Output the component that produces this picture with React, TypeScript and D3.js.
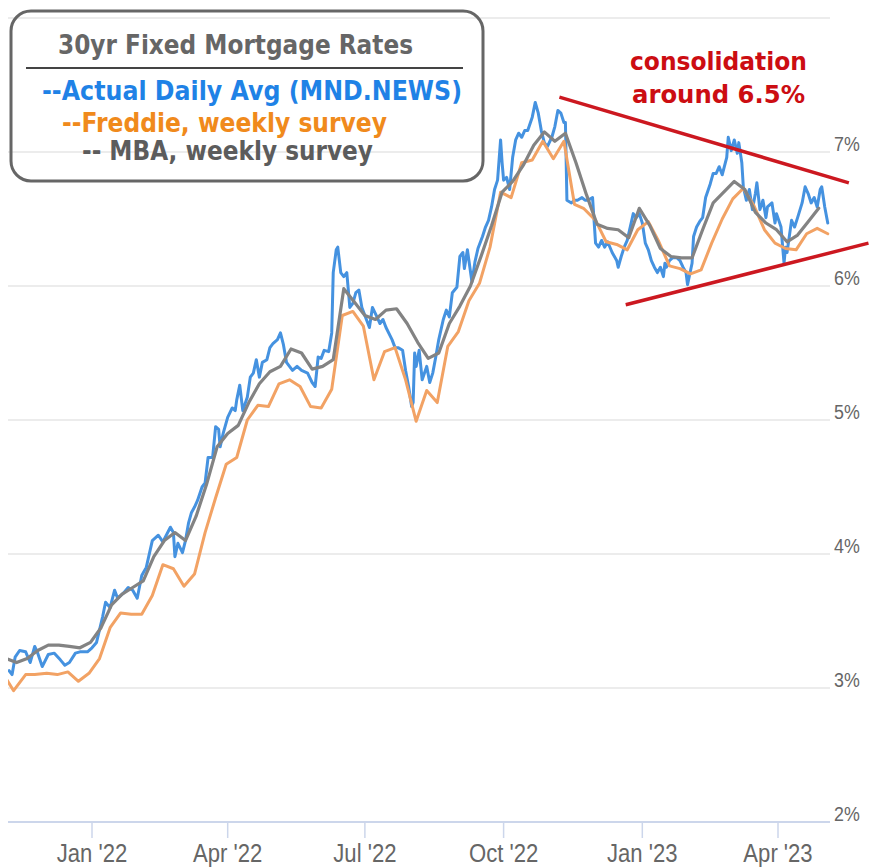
import React from 'react';
import * as d3 from 'd3';

// ---------- DATA ----------
const blueDates = [
  '2021-11-07','2021-11-09','2021-11-11','2021-11-14','2021-11-18','2021-11-21','2021-11-24','2021-11-26','2021-11-29',
  '2021-12-03','2021-12-07','2021-12-11','2021-12-14','2021-12-17','2021-12-21','2021-12-24','2021-12-29',
  '2022-01-01','2022-01-04','2022-01-08','2022-01-10','2022-01-13','2022-01-16','2022-01-18','2022-01-22','2022-01-25','2022-01-28','2022-01-31',
  '2022-02-03','2022-02-06','2022-02-10','2022-02-14','2022-02-17','2022-02-22','2022-02-24','2022-02-25','2022-02-27',
  '2022-03-02','2022-03-04','2022-03-06','2022-03-08','2022-03-10','2022-03-12','2022-03-15','2022-03-17','2022-03-19','2022-03-22','2022-03-24','2022-03-26','2022-03-27','2022-03-29',
  '2022-04-01','2022-04-04','2022-04-06','2022-04-07','2022-04-09','2022-04-11','2022-04-14','2022-04-16','2022-04-18','2022-04-20','2022-04-22','2022-04-24','2022-04-27','2022-04-29',
  '2022-05-01','2022-05-04','2022-05-06','2022-05-08','2022-05-10','2022-05-14','2022-05-17','2022-05-20','2022-05-24','2022-05-27','2022-05-29','2022-05-31',
  '2022-06-02','2022-06-04','2022-06-07','2022-06-09','2022-06-10','2022-06-12','2022-06-13','2022-06-15','2022-06-17','2022-06-19','2022-06-21','2022-06-23','2022-06-25','2022-06-27','2022-06-29',
  '2022-07-02','2022-07-04','2022-07-06','2022-07-09','2022-07-11','2022-07-13','2022-07-15','2022-07-19','2022-07-21','2022-07-23','2022-07-26','2022-07-28','2022-07-30',
  '2022-08-01','2022-08-02','2022-08-03','2022-08-04','2022-08-06','2022-08-08','2022-08-11','2022-08-13','2022-08-15','2022-08-17','2022-08-19','2022-08-22','2022-08-24','2022-08-26','2022-08-28','2022-08-31',
  '2022-09-02','2022-09-04','2022-09-05','2022-09-07','2022-09-10','2022-09-12','2022-09-14','2022-09-17','2022-09-19','2022-09-21','2022-09-23','2022-09-25','2022-09-27','2022-09-29','2022-09-30',
  '2022-10-01','2022-10-03','2022-10-05','2022-10-07','2022-10-09','2022-10-11','2022-10-13','2022-10-15','2022-10-17','2022-10-20','2022-10-22','2022-10-24','2022-10-26','2022-10-28','2022-10-30',
  '2022-11-02','2022-11-04','2022-11-06','2022-11-08','2022-11-10','2022-11-11','2022-11-12','2022-11-15','2022-11-17','2022-11-19','2022-11-22','2022-11-24','2022-11-26','2022-11-29','2022-11-30',
  '2022-12-01','2022-12-03','2022-12-05','2022-12-07','2022-12-09','2022-12-12','2022-12-15','2022-12-16','2022-12-18','2022-12-20','2022-12-22','2022-12-25','2022-12-26','2022-12-28','2022-12-30',
  '2023-01-01','2023-01-03','2023-01-05','2023-01-07','2023-01-09','2023-01-11','2023-01-13','2023-01-15','2023-01-16','2023-01-17','2023-01-19','2023-01-21','2023-01-24','2023-01-26','2023-01-28','2023-01-30','2023-01-31',
  '2023-02-03','2023-02-04','2023-02-06','2023-02-08','2023-02-10','2023-02-12','2023-02-15','2023-02-17','2023-02-19','2023-02-21','2023-02-23','2023-02-26','2023-02-27',
  '2023-03-01','2023-03-03','2023-03-05','2023-03-06','2023-03-08','2023-03-09','2023-03-11','2023-03-13','2023-03-15','2023-03-17','2023-03-18','2023-03-20','2023-03-22','2023-03-24','2023-03-25','2023-03-28','2023-03-30','2023-03-31',
  '2023-04-03','2023-04-05','2023-04-06','2023-04-07','2023-04-10','2023-04-12','2023-04-14','2023-04-17','2023-04-19','2023-04-21','2023-04-23','2023-04-25','2023-04-27','2023-04-29','2023-04-30',
  '2023-05-02','2023-05-04',
];
const blueValues = [
  3.13,3.10,3.23,3.28,3.27,3.19,3.31,3.26,3.16,
  3.25,3.26,3.21,3.17,3.19,3.26,3.27,3.27,
  3.30,3.34,3.53,3.64,3.60,3.73,3.67,3.71,3.75,3.73,3.67,
  3.84,3.90,4.10,4.14,4.09,4.20,4.16,3.98,4.08,
  4.01,4.10,4.23,4.31,4.35,4.40,4.50,4.53,4.72,4.72,4.95,4.93,4.80,4.90,
  5.02,5.09,5.07,5.15,5.26,5.07,5.17,5.32,5.35,5.45,5.32,5.43,5.45,5.54,
  5.57,5.60,5.65,5.56,5.43,5.37,5.40,5.37,5.35,5.28,5.25,5.47,
  5.46,5.52,5.51,5.65,6.10,6.27,6.29,6.10,6.07,6.10,5.84,5.87,5.95,5.97,5.84,
  5.75,5.69,5.84,5.77,5.72,5.75,5.69,5.60,5.54,5.54,5.52,5.37,5.25,
  5.10,5.13,5.50,5.40,5.52,5.30,5.40,5.28,5.35,5.47,5.60,5.75,5.82,5.77,5.95,5.99,
  6.22,6.25,6.13,6.27,6.03,6.18,6.28,6.37,6.44,6.49,6.59,6.72,6.79,7.09,6.92,
  6.79,6.81,6.72,6.96,7.09,7.14,7.11,7.16,7.16,7.26,7.37,7.29,7.16,7.07,7.04,
  7.11,7.19,7.31,7.29,7.22,7.22,6.64,6.62,6.64,6.64,6.66,6.64,6.64,6.66,6.49,
  6.32,6.29,6.34,6.29,6.33,6.25,6.19,6.14,6.22,6.29,6.34,6.49,6.54,6.51,6.54,
  6.47,6.32,6.27,6.19,6.14,6.10,6.14,6.07,6.17,6.14,6.19,6.21,6.21,6.19,6.14,6.10,6.01,
  6.17,6.37,6.44,6.48,6.51,6.66,6.76,6.84,6.84,6.89,6.83,6.96,7.11,
  7.01,7.09,6.99,7.07,6.92,6.74,6.64,6.72,6.57,6.69,6.77,6.57,6.64,6.51,6.59,6.62,6.47,6.54,
  6.44,6.17,6.29,6.25,6.49,6.44,6.51,6.62,6.74,6.69,6.62,6.66,6.59,6.72,6.74,
  6.59,6.47,
];

const freddieDates = [
  '2021-10-28','2021-11-04','2021-11-10','2021-11-18','2021-11-24','2021-12-02','2021-12-09','2021-12-16','2021-12-23','2021-12-30',
  '2022-01-06','2022-01-13','2022-01-20','2022-01-27','2022-02-03','2022-02-10','2022-02-17','2022-02-24','2022-03-03','2022-03-10',
  '2022-03-17','2022-03-24','2022-03-31','2022-04-07','2022-04-14','2022-04-21','2022-04-28','2022-05-05','2022-05-12','2022-05-19',
  '2022-05-26','2022-06-02','2022-06-09','2022-06-16','2022-06-23','2022-06-30','2022-07-07','2022-07-14','2022-07-21','2022-07-28',
  '2022-08-04','2022-08-11','2022-08-18','2022-08-25','2022-09-01','2022-09-08','2022-09-15','2022-09-22','2022-09-29','2022-10-06',
  '2022-10-13','2022-10-20','2022-10-27','2022-11-03','2022-11-10','2022-11-17','2022-11-23','2022-12-01','2022-12-08','2022-12-15',
  '2022-12-22','2022-12-29','2023-01-05','2023-01-12','2023-01-19','2023-01-26','2023-02-02','2023-02-09','2023-02-16','2023-02-23',
  '2023-03-02','2023-03-09','2023-03-16','2023-03-23','2023-03-30','2023-04-06','2023-04-13','2023-04-20','2023-04-27','2023-05-04',
];
const freddieValues = [
  3.14,3.09,2.98,3.10,3.10,3.11,3.10,3.12,3.05,3.11,
  3.22,3.45,3.56,3.55,3.55,3.69,3.92,3.89,3.76,3.85,
  4.16,4.42,4.67,4.72,5.00,5.11,5.10,5.27,5.30,5.25,
  5.10,5.09,5.23,5.78,5.81,5.70,5.30,5.51,5.54,5.30,
  4.99,5.22,5.13,5.55,5.66,5.89,6.02,6.29,6.70,6.66,
  6.92,6.94,7.08,6.95,7.08,6.61,6.58,6.49,6.33,6.31,
  6.27,6.42,6.48,6.33,6.15,6.13,6.09,6.12,6.32,6.50,
  6.65,6.73,6.60,6.42,6.32,6.28,6.27,6.39,6.43,6.39,
];

const mbaDates = [
  '2021-11-05','2021-11-12','2021-11-19','2021-11-26','2021-12-03','2021-12-10','2021-12-17','2021-12-24','2021-12-31',
  '2022-01-07','2022-01-14','2022-01-21','2022-01-28','2022-02-04','2022-02-11','2022-02-18','2022-02-25','2022-03-04','2022-03-11',
  '2022-03-18','2022-03-25','2022-04-01','2022-04-08','2022-04-15','2022-04-22','2022-04-29','2022-05-06','2022-05-13','2022-05-20',
  '2022-05-27','2022-06-03','2022-06-10','2022-06-17','2022-06-24','2022-07-01','2022-07-08','2022-07-15','2022-07-22','2022-07-29',
  '2022-08-05','2022-08-12','2022-08-19','2022-08-26','2022-09-02','2022-09-09','2022-09-16','2022-09-23','2022-09-30','2022-10-07',
  '2022-10-14','2022-10-21','2022-10-28','2022-11-04','2022-11-11','2022-11-18','2022-11-25','2022-12-02','2022-12-09','2022-12-16',
  '2022-12-23','2022-12-30','2023-01-06','2023-01-13','2023-01-20','2023-01-27','2023-02-03','2023-02-10','2023-02-17','2023-02-24',
  '2023-03-03','2023-03-10','2023-03-17','2023-03-24','2023-03-31','2023-04-07','2023-04-14','2023-04-21','2023-04-28',
];
const mbaValues = [
  3.22,3.19,3.22,3.28,3.32,3.32,3.31,3.30,3.34,
  3.45,3.62,3.70,3.75,3.80,3.98,4.10,4.16,4.10,4.28,
  4.52,4.80,4.90,4.96,5.13,5.27,5.36,5.40,5.53,5.50,
  5.38,5.40,5.45,5.98,5.88,5.78,5.75,5.82,5.83,5.72,
  5.58,5.46,5.50,5.72,5.85,6.00,6.22,6.45,6.70,6.78,
  6.90,7.05,7.15,7.08,7.14,6.92,6.68,6.46,6.43,6.42,
  6.36,6.58,6.45,6.28,6.22,6.21,6.21,6.42,6.62,6.70,
  6.78,6.72,6.55,6.47,6.42,6.33,6.38,6.48,6.58,
];

const yTickValues = [2, 3, 4, 5, 6, 7, 8];
const yTickLabels = ['2%', '3%', '4%', '5%', '6%', '7%', ''];
const xTickDates = ['2022-01-01', '2022-04-01', '2022-07-01', '2022-10-01', '2023-01-01', '2023-04-01'];
const xTickLabels = ["Jan '22", "Apr '22", "Jul '22", "Oct '22", "Jan '23", "Apr '23"];

const upperTrendDates = ['2022-11-07', '2023-05-18'];
const upperTrendValues = [7.41, 6.77];
const lowerTrendDates = ['2022-12-21', '2023-05-31'];
const lowerTrendValues = [5.86, 6.32];

const titleText = '30yr Fixed Mortgage Rates';
const legendTexts = ['--Actual Daily Avg (MND.NEWS)', '--Freddie, weekly survey', '-- MBA, weekly survey'];
const annotationLines = ['consolidation', 'around 6.5%'];

// ---------- LAYOUT / STYLE ----------
const W = 869;
const H = 867;
const plotLeft = 8;
const plotRight = 830;
const parse = d3.utcParse('%Y-%m-%d');

const x = d3.scaleUtc()
  .domain([parse('2022-01-01') as Date, parse('2023-04-01') as Date])
  .range([92, 778]);
const y = d3.scaleLinear().domain([2, 8]).range([822, 18]);

type Pt = [Date, number];
const toPts = (ds: string[], vs: number[]): Pt[] => ds.map((d, i) => [parse(d) as Date, vs[i]]);
const line = d3.line<Pt>().x(d => x(d[0])).y(d => y(d[1]));

const COLORS = {
  blue: '#4592e0',
  orange: '#f2a264',
  gray: '#838383',
  red: '#cc1820',
  grid: '#e6e6e6',
  axis: '#ccd6eb',
  label: '#666666',
};

export default function App() {
  const blue = toPts(blueDates, blueValues);
  const freddie = toPts(freddieDates, freddieValues);
  const mba = toPts(mbaDates, mbaValues);
  const upper = toPts(upperTrendDates, upperTrendValues);
  const lower = toPts(lowerTrendDates, lowerTrendValues);
  const axisY = y(2);

  const legendStyles = [
    { fill: '#1f82e6', x: 42, y: 100, len: 420 },
    { fill: '#f08a1c', x: 62, y: 132, len: 325 },
    { fill: '#5c5c5c', x: 82, y: 160, len: 291 },
  ];

  return (
    <div style={{ position: 'absolute', left: 0, top: 0, width: W, height: H, background: '#fff' }}>
      <svg width={W} height={H} style={{ display: 'block' }}>
        <defs>
          <clipPath id="plotClip">
            <rect x={plotLeft} y={0} width={plotRight - plotLeft} height={axisY + 2} />
          </clipPath>
        </defs>

        {/* gridlines */}
        {yTickValues.filter(v => v !== 2).map(v => (
          <line key={'g' + v} x1={plotLeft} x2={plotRight} y1={y(v)} y2={y(v)}
            stroke={COLORS.grid} strokeWidth={1.5} />
        ))}
        {/* x axis line */}
        <line x1={plotLeft} x2={plotRight} y1={axisY} y2={axisY} stroke={COLORS.axis} strokeWidth={2} />
        {/* x ticks */}
        {xTickDates.map((d, i) => {
          const px = x(parse(d) as Date);
          return (
            <g key={'xt' + i}>
              <line x1={px} x2={px} y1={axisY} y2={axisY + 16} stroke={COLORS.axis} strokeWidth={1.5} />
              <text transform={`translate(${px},862) scale(0.85,1)`} textAnchor="middle"
                fontFamily="'Liberation Sans', Arial, sans-serif" fontSize={26} fill={COLORS.label}>
                {xTickLabels[i]}
              </text>
            </g>
          );
        })}
        {/* y labels */}
        {yTickValues.map((v, i) => yTickLabels[i] ? (
          <text key={'yl' + v} transform={`translate(834,${y(v) - 1}) scale(0.85,1)`}
            fontFamily="'Liberation Sans', Arial, sans-serif" fontSize={21} fill={COLORS.label}>
            {yTickLabels[i]}
          </text>
        ) : null)}

        {/* series */}
        <g clipPath="url(#plotClip)" fill="none" strokeLinejoin="round" strokeLinecap="round">
          <path d={line(blue) || ''} stroke={COLORS.blue} strokeWidth={3} />
          <path d={line(freddie) || ''} stroke={COLORS.orange} strokeWidth={3} />
          <path d={line(mba) || ''} stroke={COLORS.gray} strokeWidth={3.2} />
        </g>

        {/* trend lines */}
        <path d={line(upper) || ''} stroke={COLORS.red} strokeWidth={3.5} fill="none" />
        <path d={line(lower) || ''} stroke={COLORS.red} strokeWidth={3.5} fill="none" />

        {/* annotation */}
        <g fontFamily="'DejaVu Sans', Verdana, sans-serif" fontWeight="bold" fontSize={25} fill="#cc0d12">
          <text x={630} y={70} textLength={177} lengthAdjust="spacingAndGlyphs">{annotationLines[0]}</text>
          <text x={632} y={103} textLength={173} lengthAdjust="spacingAndGlyphs">{annotationLines[1]}</text>
        </g>

        {/* legend box */}
        <rect x={11} y={11} width={472} height={170} rx={20} ry={20} fill="none" stroke="#666" strokeWidth={3} />
        <text x={58} y={54} fontFamily="'DejaVu Sans', Verdana, sans-serif" fontWeight="bold" fontSize={27}
          fill="#666" textLength={355} lengthAdjust="spacingAndGlyphs">{titleText}</text>
        <line x1={26} x2={463} y1={68} y2={68} stroke="#444" strokeWidth={2} />
        {legendTexts.map((t, i) => (
          <text key={'lg' + i} x={legendStyles[i].x} y={legendStyles[i].y}
            fontFamily="'DejaVu Sans', Verdana, sans-serif" fontWeight="bold" fontSize={27}
            fill={legendStyles[i].fill} textLength={legendStyles[i].len} lengthAdjust="spacingAndGlyphs">
            {t}
          </text>
        ))}
      </svg>
    </div>
  );
}
